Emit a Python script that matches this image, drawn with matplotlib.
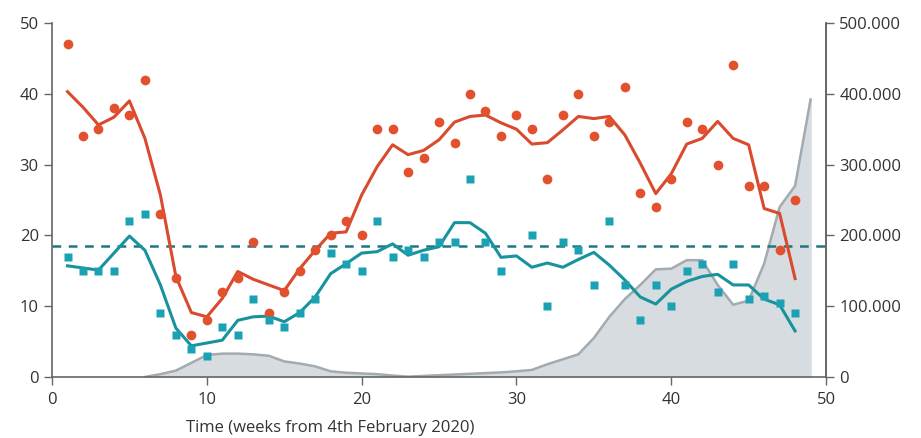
import matplotlib.pyplot as plt
import matplotlib.ticker as mticker
import numpy as np

plt.rcParams['font.family'] = ['Open Sans', 'DejaVu Sans']

# weekly observations (weeks 1..48)
weeks = list(range(1, 49))
red_points = [47, 34, 35, 38, 37, 42, 23, 14, 6, 8, 12, 14, 19, 9, 12, 15, 18, 20, 22, 20,
              35, 35, 29, 31, 36, 33, 40, 37.5, 34, 37, 35, 28, 37, 40, 34, 36, 41, 26, 24, 28,
              36, 35, 30, 44, 27, 27, 18, 25]
red_smooth = [40.3, 38.1, 35.6, 36.7, 39, 33.7, 25.7, 14.2, 9.1, 8.5, 11.1, 14.9, 13.8, 13, 12.2,
              15.3, 17.9, 20.3, 20.5, 25.7, 29.7, 32.8, 31.4, 32, 33.5, 36, 36.8, 37, 35.9, 35,
              32.9, 33.1, 34.9, 36.8, 36.5, 36.8, 34.2, 30.2, 25.9, 28.7, 32.9, 33.7, 36.1, 33.7,
              32.8, 23.8, 23.1, 13.9]
teal_points = [17, 15, 15, 15, 22, 23, 9, 6, 4, 3, 7, 6, 11, 8, 7, 9, 11, 17.5, 16, 15,
               22, 17, 18, 17, 19, 19, 28, 19, 15, np.nan, 20, 10, 19, 18, 13, 22, 13, 8, 13, 10,
               15, 16, 12, 16, 11, 11.5, 10.5, 9]
teal_smooth = [15.7, 15.4, 15.1, 17.5, 19.9, 17.9, 13, 6.9, 4.4, 4.8, 5.2, 8, 8.5, 8.6, 7.8,
               9.1, 11.3, 14.6, 16, 17.5, 17.7, 18.8, 17.2, 17.9, 18.4, 21.8, 21.8, 20.3, 16.9,
               17.1, 15.5, 16.1, 15.5, 16.6, 17.6, 15.8, 13.7, 11.3, 10.3, 12.4, 13.5, 14.2, 14.5,
               13, 13, 11, 10.2, 6.5]
reference_level = 18.5

# grey area on the right axis (weeks 6..49)
area_weeks = list(range(6, 50))
area_values = [0, 4000, 9000, 20000, 31000, 33000, 33000, 32000, 30000, 22000, 19000, 15000,
               8000, 6000, 5000, 4000, 2000, 500, 1500, 2500, 3500, 4500, 5500, 6500, 8000,
               10000, 18000, 25000, 32000, 55000, 85000, 110000, 130000, 152000, 153000,
               165000, 165000, 130000, 102000, 108000, 160000, 240000, 270000, 392000]

red = '#e2502d'
red_line = '#d94a2e'
teal = '#1aa2b4'
teal_line = '#18939d'
axis_grey = '#666666'
text_col = '#333333'

fig = plt.figure(figsize=(9.21, 4.38), dpi=100)
ax = fig.add_axes([0.0565, 0.1393, 0.8404, 0.8082])
ax2 = ax.twinx()
ax.set_zorder(ax2.get_zorder() + 1)
ax.patch.set_visible(False)

ax2.fill_between(area_weeks, area_values, color='#d6dcdf', zorder=1)
ax2.plot(area_weeks, area_values, color='#a3abb0', lw=1.8, zorder=2)
ax2.set_ylim(0, 500000)
ax2.set_yticks(np.arange(0, 500001, 100000))
ax2.yaxis.set_major_formatter(mticker.FuncFormatter(
    lambda v, p: '0' if v == 0 else f'{int(v):,}'.replace(',', '.')))

ax.axhline(reference_level, color='#1e7683', lw=1.8, ls=(0, (3.5, 3)), zorder=2)
ax.plot(weeks, red_smooth, color=red_line, lw=2.2, zorder=3)
ax.plot(weeks, teal_smooth, color=teal_line, lw=2.2, zorder=3)
ax.plot(weeks, red_points, 'o', color=red, ms=7, mec='none', zorder=4)
ax.plot(weeks, teal_points, 's', color=teal, ms=5.6, mec='none', zorder=4)

ax.set_xlim(0, 50)
ax.set_ylim(0, 50)
ax.set_xticks(range(0, 51, 10))
ax.set_yticks(range(0, 51, 10))

for a in (ax, ax2):
    a.spines['top'].set_visible(False)
    for s in ('left', 'right', 'bottom'):
        a.spines[s].set_color(axis_grey)
        a.spines[s].set_linewidth(1.2)
    a.tick_params(colors=axis_grey, labelcolor=text_col, labelsize=12, length=6, width=1)
ax.tick_params(axis='x', pad=5)
ax2.spines['left'].set_visible(False)
ax2.spines['bottom'].set_visible(False)

fig.text(330 / 921, 0.004, 'Time (weeks from 4th February 2020)', ha='center', va='bottom',
         fontsize=12, color=text_col)

fig.savefig('out.png', dpi=100)
